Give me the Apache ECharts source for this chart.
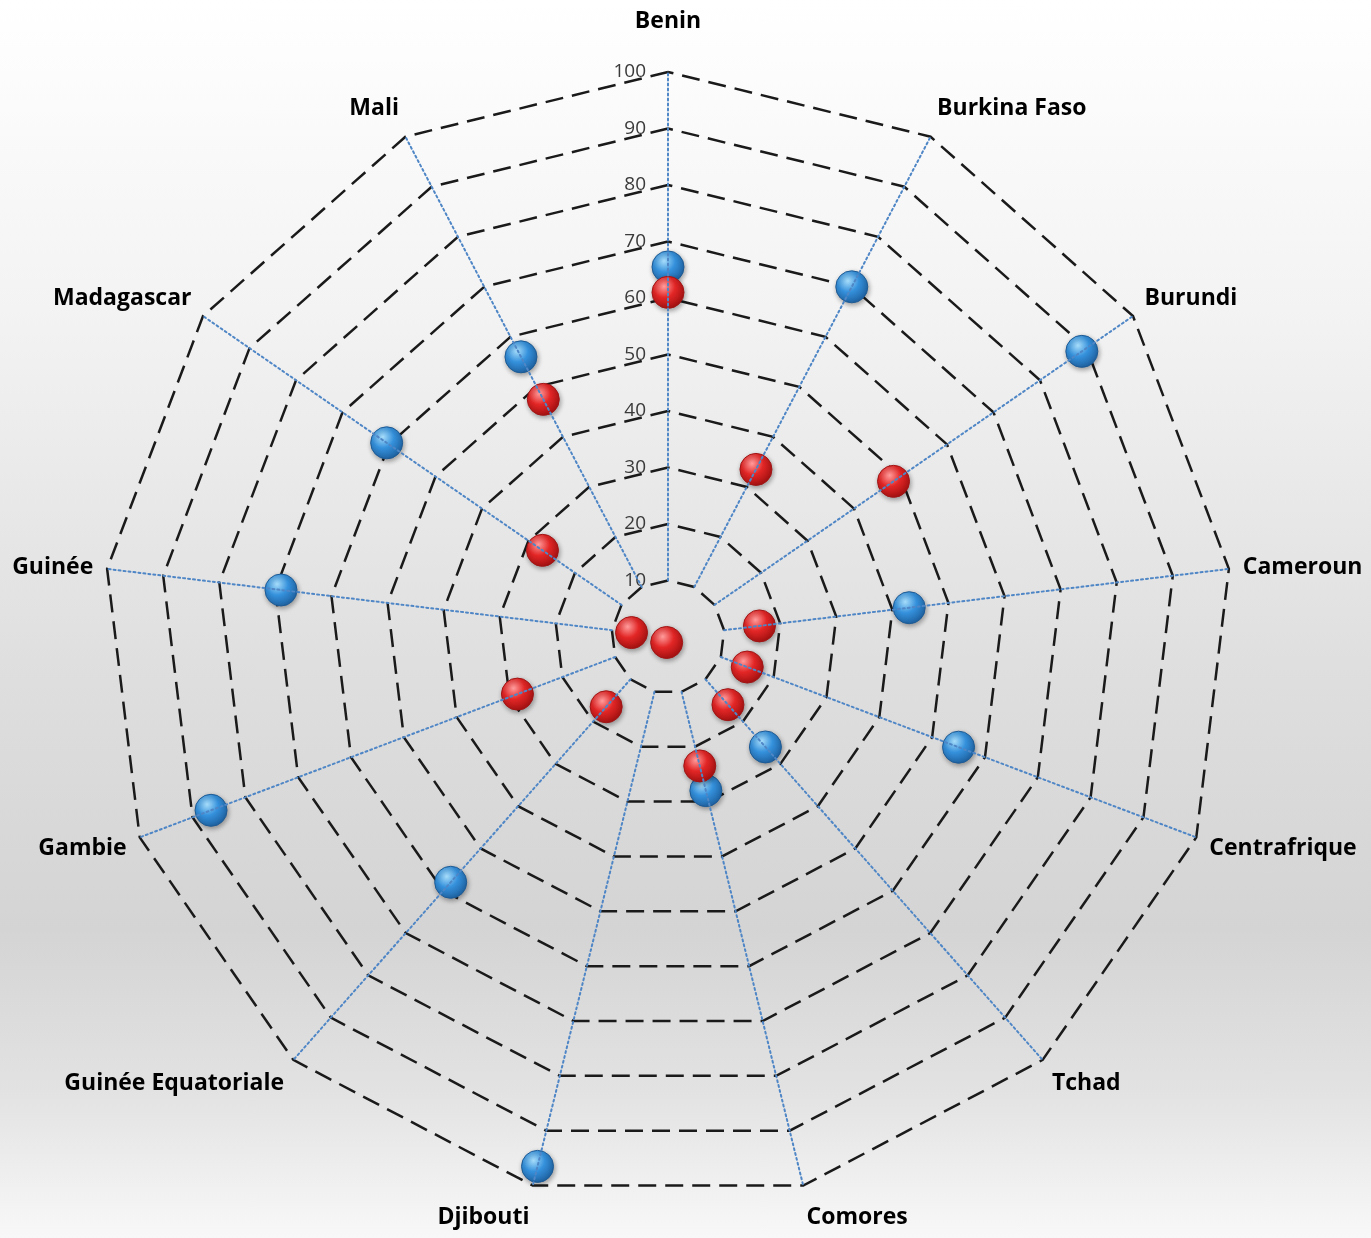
<!DOCTYPE html>
<html>
<head>
<meta charset="utf-8">
<script src="https://cdn.jsdelivr.net/npm/echarts@6/dist/echarts.min.js"></script>
<style>
html,body{margin:0;padding:0;}
#chart{width:1371px;height:1238px;background:linear-gradient(to bottom,#ffffff 0%,#f3f3f3 25%,#dedede 55%,#d4d4d4 75%,#e2e2e2 88%,#f8f8f8 100%);}
</style>
</head>
<body>
<div id="chart"></div>
<script>
// Categories listed clockwise from the top
const categories = ['Benin','Burkina Faso','Burundi','Cameroun','Centrafrique','Tchad','Comores','Djibouti','Guinée Equatoriale','Gambie','Guinée','Madagascar','Mali'];
const blueValues = [65.5, 70, 89, 43, 55, 26, 28, 96.5, 58, 86.5, 69, 60.5, 56];
const redValues  = [61, 33.5, 48.5, 16.3, 15, 16, 23.5, 1, 16.5, 28.5, 6.5, 27, 47.5];
const tickLabels = ['0','10','20','30','40','50','60','70','80','90','100'];

const CX = 668, CY = 637, R = 565;

// per-label vertical nudge (top padding, bottom padding) to mimic the original's layout
const namePad = {
  'Benin':[0,25], 'Burkina Faso':[0,32], 'Burundi':[0,20], 'Cameroun':[0,0],
  'Centrafrique':[12,0], 'Tchad':[26,0], 'Comores':[36,0], 'Djibouti':[36,0],
  'Guinée Equatoriale':[26,0], 'Gambie':[12,0], 'Guinée':[0,0], 'Madagascar':[0,20], 'Mali':[0,32]
};

// ECharts radar places indicators counter-clockwise; reorder to get clockwise layout
function cw(arr){ return [arr[0]].concat(arr.slice(1).reverse()); }
const indicators = cw(categories).map(n => ({name:n, min:0, max:100}));

const rich = {};
categories.forEach((n, i) => {
  const p = namePad[n];
  rich['n' + i] = {color:'#000', fontSize:23, fontWeight:'bold', fontFamily:'Open Sans', padding:[p[0],0,p[1],0]};
});

function ball(light, mid, dark){
  return {type:'radial', x:0.38, y:0.32, r:0.75,
    colorStops:[{offset:0,color:light},{offset:0.45,color:mid},{offset:1,color:dark}]};
}

const chart = echarts.init(document.getElementById('chart'));
chart.setOption({
  backgroundColor:'transparent',
  animation:false,
  radar:[{
    center:[CX,CY], radius:R, startAngle:90, splitNumber:10,
    indicator:indicators, shape:'polygon', z:0,
    nameGap:14,
    axisName:{color:'#000', fontSize:23, fontWeight:'bold', fontFamily:'Open Sans',
      formatter:(name)=>'{n' + categories.indexOf(name) + '|' + name + '}', rich:rich},
    splitLine:{lineStyle:{color:'#1a1a1a', width:2.5, type:[18,9]}},
    splitArea:{show:false},
    axisLine:{show:false},
    axisTick:{show:false},
    axisLabel:{show:false}
  },{
    center:[CX,CY], radius:[R/10, R], startAngle:90, splitNumber:9,
    indicator:indicators, shape:'polygon', z:10,
    axisName:{show:false},
    splitLine:{show:false},
    splitArea:{show:false},
    axisLine:{lineStyle:{color:'#4f86c6', width:2, type:[2,3]}},
    axisTick:{show:false},
    axisLabel:{show:false}
  }],
  grid:{left:CX, top:CY-R, width:1, height:R},
  xAxis:{type:'value', show:false},
  yAxis:{type:'value', min:0, max:100, interval:10, position:'left',
    axisLine:{show:false}, axisTick:{show:false}, splitLine:{show:false},
    axisLabel:{margin:22, color:'#3a3a3a', fontSize:19, fontFamily:'Open Sans',
      formatter:(v)=>tickLabels[Math.round(v/10)]}
  },
  series:[{
    type:'radar', radarIndex:0, z:5,
    symbol:'circle', symbolSize:32,
    lineStyle:{width:0, opacity:0},
    itemStyle:{color:ball('#a6dcfa','#3591dc','#1b5b99'), borderColor:'#1d5a94', borderWidth:1,
      shadowBlur:5, shadowColor:'rgba(0,0,0,0.35)', shadowOffsetX:1, shadowOffsetY:2},
    emphasis:{disabled:true},
    data:[{value:cw(blueValues), name:'blue'}]
  },{
    type:'radar', radarIndex:0, z:6,
    symbol:'circle', symbolSize:32,
    lineStyle:{width:0, opacity:0},
    itemStyle:{color:ball('#ff9c9c','#e32626','#9a0e0e'), borderColor:'#a01515', borderWidth:1,
      shadowBlur:5, shadowColor:'rgba(0,0,0,0.35)', shadowOffsetX:1, shadowOffsetY:2},
    emphasis:{disabled:true},
    data:[{value:cw(redValues), name:'red'}]
  }]
});
</script>
</body>
</html>
